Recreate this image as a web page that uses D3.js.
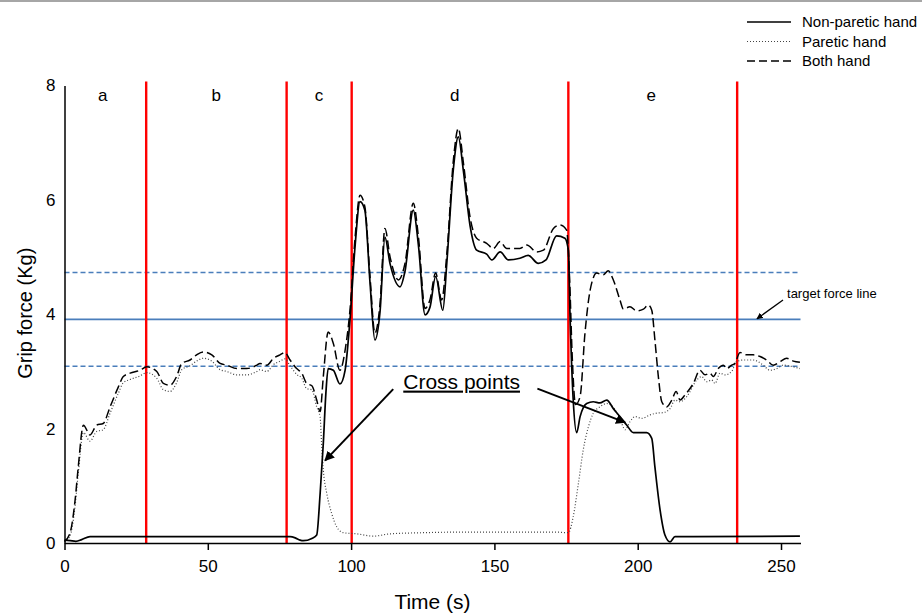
<!DOCTYPE html>
<html>
<head>
<meta charset="utf-8">
<script src="https://cdn.jsdelivr.net/npm/d3@7"></script>
<style>
  body { margin: 0; background: #fff; }
  svg { display: block; font-family: "Liberation Sans", Arial, sans-serif; }
</style>
</head>
<body>
<div id="chart"></div>
<script>
// grip force traces, [time (s), force (kg)]
const nonPareticHand = [[0,0.05],[2,0.04],[4,0.03],[6,0.06],[8.9,0.11],[30,0.11],[60,0.11],[75.1,0.11],[78.7,0.11],[80.5,0.09],[82.2,0.05],[83.3,0.04],[86.3,0.08],[88.0,0.14],[89.2,0.87],[90.3,1.74],[91.2,2.62],[92.0,3.05],[93.8,3.02],[96.1,2.78],[97.9,3.02],[99.6,3.9],[101.4,5.2],[103.1,5.97],[104.8,5.82],[106.6,4.55],[108.3,3.55],[110.1,4.05],[111.8,5.35],[113.6,4.88],[117.1,4.48],[118.8,4.75],[121.7,5.82],[123.5,5.2],[125.8,3.99],[127.5,4.12],[129.5,4.66],[132.0,4.07],[133.4,4.9],[135.7,6.55],[137.4,7.1],[139.2,6.5],[141.5,5.55],[143.8,5.12],[147.3,5.05],[149.1,4.95],[152.0,5.09],[154.9,4.95],[158.9,4.98],[161.8,5.03],[165.3,4.89],[168.0,4.95],[171.7,5.37],[174.6,5.33],[175.8,5.12],[176.4,3.96],[177.5,2.5],[178.7,1.93],[179.9,2.21],[182.2,2.44],[184.5,2.47],[186.8,2.45],[189.2,2.5],[191.5,2.35],[193.8,2.21],[196.2,2.06],[198.5,1.93],[203.1,1.93],[204.9,1.83],[206.0,1.33],[207.8,0.58],[209.5,0.14],[211.3,0.02],[213.0,0.11],[219.4,0.11],[256.6,0.12]];

const pareticHand = [[0,0.02],[1.9,0.12],[3.7,0.65],[4.8,1.22],[6.6,1.93],[8.9,1.78],[11.2,1.95],[13.5,1.98],[15.9,2.27],[18.8,2.62],[20.5,2.8],[22.9,2.86],[26.3,2.92],[28.7,2.98],[32.2,2.88],[34.5,2.68],[36.8,2.65],[39.1,2.8],[40.9,3.03],[43.8,3.1],[46.1,3.18],[48.4,3.23],[51.4,3.18],[54.3,3.03],[56.6,3.0],[60.1,2.94],[63.6,2.94],[67.1,3.0],[68.2,3.03],[70.6,3.0],[72.9,3.12],[75.2,3.18],[76.9,3.22],[78.7,3.1],[81.0,2.95],[82.8,2.88],[84.5,2.7],[86.3,2.68],[88.0,2.38],[89.2,2.2],[89.7,1.74],[90.3,1.28],[91.5,0.87],[93.2,0.52],[95.0,0.28],[97.3,0.18],[102.0,0.16],[107.7,0.12],[113.6,0.16],[125.2,0.18],[136.8,0.19],[148.4,0.19],[160.1,0.19],[171.7,0.19],[175.8,0.18],[177.5,0.46],[179.3,1.04],[181.0,1.63],[182.8,2.03],[184.5,2.27],[186.8,2.38],[189.2,2.44],[192.1,2.33],[194.4,2.09],[195.6,1.98],[197.3,2.12],[199.1,2.21],[201.4,2.18],[204.3,2.24],[206.6,2.27],[208.9,2.28],[211.3,2.35],[213.0,2.5],[214.8,2.47],[217.1,2.56],[220.6,2.85],[222.3,2.91],[224.1,2.82],[225.8,2.85],[227.0,2.79],[228.7,2.97],[230.5,2.94],[232.8,3.0],[234.5,3.17],[236.9,3.2],[240.3,3.2],[243.8,3.11],[246.1,3.02],[248.5,3.05],[250.8,3.11],[254.3,3.08],[256.6,3.05]];

const bothHand = [[0,0.03],[1.9,0.17],[3.7,0.75],[4.8,1.33],[6.6,2.06],[8.9,1.89],[11.2,2.06],[13.5,2.09],[15.9,2.38],[18.8,2.73],[20.5,2.91],[22.9,2.97],[26.3,3.02],[28.7,3.08],[32.2,3.0],[34.5,2.79],[36.8,2.76],[39.1,2.91],[40.9,3.14],[43.8,3.2],[46.1,3.29],[48.4,3.34],[51.4,3.29],[54.3,3.14],[56.6,3.11],[60.1,3.05],[63.6,3.05],[67.1,3.11],[68.2,3.14],[70.6,3.11],[72.9,3.23],[75.2,3.29],[76.9,3.33],[78.7,3.2],[81.0,3.05],[82.8,2.97],[84.5,2.79],[86.3,2.75],[88.0,2.5],[89.2,2.3],[90.3,2.91],[92.0,3.69],[93.8,3.49],[96.1,3.02],[97.9,3.37],[99.6,4.07],[101.4,5.35],[103.1,6.08],[104.8,5.88],[106.6,4.66],[108.3,3.67],[110.1,4.19],[111.8,5.5],[113.6,5.0],[116.5,4.6],[118.8,4.89],[121.7,5.94],[123.5,5.35],[125.8,4.1],[127.5,4.25],[129.5,4.72],[131.6,4.25],[133.4,5.06],[135.7,6.7],[137.4,7.25],[139.2,6.64],[141.5,5.7],[143.8,5.33],[147.3,5.24],[149.6,5.15],[152.0,5.27],[154.3,5.15],[158.9,5.15],[161.3,5.21],[164.8,5.09],[167.1,5.12],[170.6,5.5],[172.9,5.56],[175.2,5.47],[176.2,4.66],[177.2,3.2],[178.3,2.42],[179.9,2.56],[181.6,3.67],[183.4,4.42],[185.7,4.72],[188.0,4.69],[189.7,4.76],[191.5,4.6],[193.8,4.25],[195.0,4.09],[197.3,4.13],[199.6,4.06],[202.0,4.09],[203.7,4.16],[204.9,4.07],[206.0,3.55],[207.2,2.91],[208.4,2.47],[210.1,2.38],[211.9,2.5],[213.4,2.65],[214.8,2.5],[216.5,2.59],[219.4,2.79],[221.7,3.02],[223.5,2.94],[225.2,2.97],[226.4,2.91],[228.1,3.05],[229.9,3.11],[231.0,3.05],[232.8,3.11],[233.9,3.14],[235.7,3.33],[238.0,3.29],[240.3,3.29],[242.7,3.26],[245.0,3.2],[247.3,3.11],[249.6,3.17],[252.0,3.23],[254.3,3.18],[256.6,3.16]];

// phase borders (s) and phase names
const phaseBorders = [28.5, 77.5, 100.2, 175.8, 234.7];
const phaseNames = ["a", "b", "c", "d", "e"];
const phaseNameTimes = [13.3, 52.9, 88.8, 136.2, 204.7];

// target force and its band (kg)
const targetForce = 3.91;
const targetBand = [4.73, 3.09];

const xTicks = [0, 50, 100, 150, 200, 250];
const yTicks = [0, 2, 4, 6, 8];

const legendNames = ["Non-paretic hand", "Paretic hand", "Both hand"];

// cross point annotations: [from, to] in [s, kg]
const crossArrows = [[[114.7, 2.69], [90.9, 1.44]], [[165.0, 2.70], [195.6, 2.11]]];
const targetArrow = [[250.7, 4.25], [241.6, 3.92]];

const width = 922;
const height = 615;

const svg = d3.select("#chart")
  .append("svg")
  .attr("width", width)
  .attr("height", height);

svg.append("rect").attr("width", width).attr("height", height).attr("fill", "#fff");
// grey rule along the top edge
svg.append("rect").attr("x", 0).attr("y", 0).attr("width", width).attr("height", 2).attr("fill", "#a6a6a6");

const x = d3.scaleLinear().domain([0, 256.8]).range([64.5, 800.5]);
const y = d3.scaleLinear().domain([0, 8]).range([543, 85.5]);

svg.append("defs").append("marker")
  .attr("id", "head")
  .attr("viewBox", "0 0 10 10")
  .attr("refX", 9).attr("refY", 5)
  .attr("markerWidth", 5).attr("markerHeight", 5)
  .attr("orient", "auto")
  .append("path")
  .attr("d", "M0,0L10,5L0,10z")
  .attr("fill", "#000");

// target lines
svg.append("line")
  .attr("x1", x(0)).attr("x2", x(256.8))
  .attr("y1", y(targetForce)).attr("y2", y(targetForce))
  .attr("stroke", "#4a7ebb").attr("stroke-width", 1.6);

svg.selectAll(".band")
  .data(targetBand)
  .enter()
  .append("line")
  .attr("class", "band")
  .attr("x1", x(0)).attr("x2", x(256.8))
  .attr("y1", d => y(d)).attr("y2", d => y(d))
  .attr("stroke", "#4a7ebb").attr("stroke-width", 1.6)
  .attr("stroke-dasharray", "5,3");

// phase borders
svg.selectAll(".phase")
  .data(phaseBorders)
  .enter()
  .append("line")
  .attr("class", "phase")
  .attr("x1", d => x(d)).attr("x2", d => x(d))
  .attr("y1", y(0)).attr("y2", y(8) - 4)
  .attr("stroke", "#ff0000").attr("stroke-width", 2.4);

svg.selectAll(".phaseName")
  .data(phaseNames)
  .enter()
  .append("text")
  .attr("x", (d, i) => x(phaseNameTimes[i]))
  .attr("y", y(8) + 15.5)
  .attr("text-anchor", "middle")
  .style("font-size", "17px")
  .text(d => d);

const line = d3.line()
  .x(d => x(d[0]))
  .y(d => y(d[1]))
  .curve(d3.curveMonotoneX);

svg.append("path")
  .datum(pareticHand)
  .attr("d", line)
  .attr("fill", "none")
  .attr("stroke", "#444")
  .attr("stroke-width", 1.2)
  .attr("stroke-dasharray", "1,2");

svg.append("path")
  .datum(bothHand)
  .attr("d", line)
  .attr("fill", "none")
  .attr("stroke", "#000")
  .attr("stroke-width", 1.5)
  .attr("stroke-dasharray", "9,4");

svg.append("path")
  .datum(nonPareticHand)
  .attr("d", line)
  .attr("fill", "none")
  .attr("stroke", "#000")
  .attr("stroke-width", 1.7);

// axes
const xAxis = svg.append("g")
  .attr("transform", `translate(0,${y(0)})`)
  .call(d3.axisBottom(x).tickValues(xTicks).tickSize(7).tickSizeOuter(0).tickPadding(10));

const yAxis = svg.append("g")
  .attr("transform", `translate(${x(0)},0)`)
  .call(d3.axisLeft(y).tickValues(yTicks).tickSize(0).tickPadding(9));

[xAxis, yAxis].forEach(g => {
  g.selectAll("text").style("font-size", "17px").attr("fill", "#000").style("font-family", "Liberation Sans, Arial, sans-serif");
  g.selectAll("path, line").attr("stroke", "#000").attr("stroke-width", 1.5);
});

svg.append("text")
  .attr("x", (x(0) + x(256.8)) / 2)
  .attr("y", 609)
  .attr("text-anchor", "middle")
  .style("font-size", "21px")
  .text("Time (s)");

svg.append("text")
  .attr("transform", `translate(32,${y(4) - 1}) rotate(-90)`)
  .attr("text-anchor", "middle")
  .style("font-size", "20px")
  .text("Grip force (Kg)");

// cross points annotation
svg.append("text")
  .attr("x", x(118.2))
  .attr("y", y(2.7))
  .style("font-size", "21px")
  .style("text-decoration", "underline")
  .text("Cross points");

svg.selectAll(".cross")
  .data(crossArrows)
  .enter()
  .append("line")
  .attr("class", "cross")
  .attr("x1", d => x(d[0][0])).attr("y1", d => y(d[0][1]))
  .attr("x2", d => x(d[1][0])).attr("y2", d => y(d[1][1]))
  .attr("stroke", "#000").attr("stroke-width", 2)
  .attr("marker-end", "url(#head)");

svg.append("line")
  .attr("x1", x(targetArrow[0][0])).attr("y1", y(targetArrow[0][1]))
  .attr("x2", x(targetArrow[1][0])).attr("y2", y(targetArrow[1][1]))
  .attr("stroke", "#000").attr("stroke-width", 1.3)
  .attr("marker-end", "url(#head)");

svg.append("text")
  .attr("x", x(252.1))
  .attr("y", y(4.28))
  .style("font-size", "13px")
  .text("target force line");

// legend
const legendDash = [null, "1,2", "8,4"];
const legend = svg.append("g").attr("transform", "translate(747,0)");
legendNames.forEach((name, i) => {
  const ly = 22 + i * 19.5;
  legend.append("line")
    .attr("x1", 0).attr("x2", 44)
    .attr("y1", ly).attr("y2", ly)
    .attr("stroke", i === 1 ? "#444" : "#000")
    .attr("stroke-width", i === 1 ? 1.2 : 1.5)
    .attr("stroke-dasharray", legendDash[i]);
  legend.append("text")
    .attr("x", 55)
    .attr("y", ly + 5)
    .style("font-size", "15px")
    .text(name);
});
</script>
</body>
</html>
